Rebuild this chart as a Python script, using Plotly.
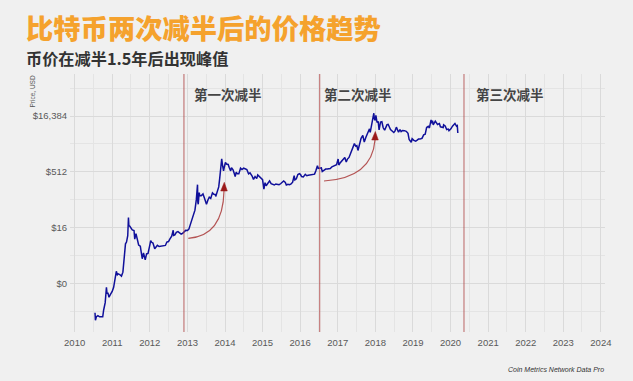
import plotly.graph_objects as go
import math

# ---- data ----
dates = [
"2010-07-18","2010-07-22","2010-08-01","2010-08-15","2010-09-01","2010-09-15","2010-10-01","2010-10-10","2010-10-25",
"2010-11-06","2010-11-12","2010-11-20","2010-12-01","2010-12-15","2011-01-01","2011-01-15","2011-02-01","2011-02-10",
"2011-02-20","2011-03-01","2011-03-15","2011-04-01","2011-04-15","2011-04-30","2011-05-10","2011-05-20","2011-06-01",
"2011-06-08","2011-06-12","2011-06-20","2011-07-01","2011-07-15","2011-08-01","2011-08-08","2011-08-20","2011-09-01",
"2011-09-15","2011-10-01","2011-10-20","2011-11-01","2011-11-18","2011-12-01","2011-12-15","2012-01-01","2012-01-10",
"2012-01-20","2012-02-01","2012-02-18","2012-03-01","2012-03-15","2012-04-01","2012-04-15","2012-05-01","2012-05-15",
"2012-06-01","2012-06-15","2012-07-01","2012-07-15","2012-08-01","2012-08-16","2012-08-20","2012-09-01","2012-09-15",
"2012-10-01","2012-10-15","2012-11-01","2012-11-15","2012-12-01","2012-12-15","2013-01-01","2013-01-15","2013-02-01",
"2013-02-15","2013-03-01","2013-03-15","2013-03-28","2013-04-09","2013-04-12","2013-04-16","2013-04-25","2013-05-01",
"2013-05-15","2013-06-01","2013-06-15","2013-07-05","2013-07-20","2013-08-01","2013-08-15","2013-09-01","2013-09-15",
"2013-10-01","2013-10-03","2013-10-15","2013-11-01","2013-11-10","2013-11-18","2013-11-30","2013-12-07","2013-12-18",
"2013-12-25","2014-01-05","2014-01-15","2014-02-01","2014-02-10","2014-02-25","2014-03-05","2014-03-20","2014-04-01",
"2014-04-10","2014-04-20","2014-05-01","2014-05-15","2014-06-01","2014-06-15","2014-07-01","2014-07-15","2014-08-01",
"2014-08-18","2014-09-01","2014-09-20","2014-10-05","2014-10-20","2014-11-05","2014-11-15","2014-12-01","2014-12-15",
"2015-01-01","2015-01-14","2015-01-25","2015-02-05","2015-02-20","2015-03-10","2015-03-25","2015-04-10","2015-04-25",
"2015-05-10","2015-05-25","2015-06-10","2015-06-25","2015-07-10","2015-07-25","2015-08-10","2015-08-20","2015-09-05",
"2015-09-20","2015-10-05","2015-10-20","2015-11-04","2015-11-11","2015-11-25","2015-12-10","2015-12-25","2016-01-05",
"2016-01-15","2016-02-01","2016-02-20","2016-03-05","2016-03-20","2016-04-05","2016-04-20","2016-05-05","2016-05-20",
"2016-06-01","2016-06-17","2016-06-25","2016-07-09","2016-07-25","2016-08-03","2016-08-20","2016-09-05","2016-09-20",
"2016-10-05","2016-10-20","2016-11-05","2016-11-20","2016-12-05","2016-12-20","2017-01-04","2017-01-11","2017-01-25",
"2017-02-10","2017-02-25","2017-03-10","2017-03-24","2017-04-05","2017-04-20","2017-05-05","2017-05-25","2017-06-11",
"2017-06-25","2017-07-05","2017-07-16","2017-08-01","2017-08-15","2017-09-01","2017-09-15","2017-10-01","2017-10-20",
"2017-11-05","2017-11-12","2017-11-28","2017-12-07","2017-12-17","2017-12-22","2017-12-30","2018-01-06","2018-01-17",
"2018-01-28","2018-02-06","2018-02-20","2018-03-05","2018-03-18","2018-04-01","2018-04-24","2018-05-05","2018-05-28",
"2018-06-12","2018-06-29","2018-07-10","2018-07-24","2018-08-14","2018-08-28","2018-09-08","2018-09-22","2018-10-10",
"2018-10-28","2018-11-14","2018-11-25","2018-12-15","2018-12-24","2019-01-10","2019-01-28","2019-02-08","2019-02-24",
"2019-03-10","2019-03-30","2019-04-15","2019-04-30","2019-05-14","2019-05-30","2019-06-10","2019-06-26","2019-07-02",
"2019-07-10","2019-07-17","2019-08-06","2019-08-28","2019-09-15","2019-09-25","2019-10-22","2019-10-26","2019-11-10",
"2019-11-25","2019-12-10","2019-12-17","2020-01-05","2020-01-20","2020-02-01","2020-02-13","2020-02-28","2020-03-07",
"2020-03-12"]
prices = [
0.08,0.05,0.063,0.067,0.062,0.061,0.062,0.095,0.15,
0.39,0.26,0.28,0.21,0.25,0.30,0.39,0.72,1.05,
0.85,0.90,0.86,0.78,1.0,3.5,5.8,6.5,9.6,
29.6,18,17.5,15.4,13.8,13.3,7.8,11,8.2,
5.4,5.0,2.3,3.3,2.15,3.1,3.2,5.3,7.1,
6.4,6.1,4.3,4.9,5.3,4.9,4.95,5.0,5.0,
5.25,6.5,6.7,7.9,9.4,13.5,9.8,10.1,11.8,
12.4,11.7,10.6,11.1,12.6,13.4,13.3,14.5,20.4,
27,34,47,89,230,78,68,140,117,
115,129,100,68,90,105,98,138,126,
123,110,145,200,330,700,1150,800,540,
680,920,830,810,680,540,660,580,460,
380,500,450,450,640,590,640,620,590,
450,480,400,320,380,335,420,380,345,
315,175,260,215,245,290,245,235,225,
240,238,229,243,270,290,265,225,235,
230,240,268,400,310,330,430,455,431,
380,372,437,400,412,421,441,448,442,
535,750,630,650,655,520,580,605,610,
612,630,700,730,760,800,1130,780,900,
1000,1170,1250,935,1130,1250,1550,2300,2950,
2500,2600,1930,2700,4100,4900,3250,4400,6000,
7400,5900,9900,16000,19500,13800,12500,17100,11000,
11700,6900,11200,11500,7900,6800,9600,9800,7100,
6500,5900,6400,8200,6000,7100,6200,6700,6600,
6350,5600,3800,3200,4000,3600,3450,3600,3900,
3900,4100,5100,5300,8000,8600,7800,12900,10500,
12300,9500,11900,9700,10300,8400,8000,9500,8800,
7100,7300,6600,7400,8700,9400,10300,8700,9000,
5700]

halving_dates = ["2012-11-28", "2016-07-09", "2020-05-11"]
halving_labels = ["第一次减半", "第二次减半", "第三次减半"]
halving_label_x = ["2013-02-18", "2016-08-05", "2020-08-18"]

y_tickvals = [0.5, 16, 512, 16384]
y_ticktext = ["$0", "$16", "$512", "$16,384"]
y_minor = [2 ** -3.5, 2 ** 1.5, 2 ** 6.5, 2 ** 11.5, 2 ** 16.5]
x_years = [f"{y}-01-01" for y in range(2010, 2025)]
x_labels = [str(y) for y in range(2010, 2025)]
x_minor = [f"{y}-07-01" for y in range(2009, 2025)]

W, H = 633, 381
L, R, T, B = 70, 28, 74, 49

def px(x):
    return (x - L) / (W - L - R)

def py(y):
    return (H - B - y) / (H - T - B)

fig = go.Figure()
fig.add_trace(go.Scatter(x=dates, y=prices, mode="lines",
                         line=dict(color="#10109a", width=1.5),
                         showlegend=False, hoverinfo="skip"))

shapes = []
for d in halving_dates:
    shapes.append(dict(type="line", xref="x", yref="paper", x0=d, x1=d, y0=0, y1=1,
                       line=dict(color="rgba(175,70,70,0.75)", width=1.1), layer="above"))

def curve_arrow(x0, y0, cx, cy, x1, y1, tipy, hw):
    path = f"M {px(x0)},{py(y0)} Q {px(cx)},{py(cy)} {px(x1)},{py(y1)}"
    shapes.append(dict(type="path", xref="paper", yref="paper", path=path,
                       line=dict(color="rgba(165,45,45,0.8)", width=1.2)))
    head = (f"M {px(x1 - hw)},{py(y1)} L {px(x1 + 0.3)},{py(tipy)} L {px(x1 + hw)},{py(y1)} Z")
    shapes.append(dict(type="path", xref="paper", yref="paper", path=head,
                       fillcolor="#9b1a1a", line=dict(color="#9b1a1a", width=0.5)))

curve_arrow(188.3, 238.3, 223, 236, 224, 191, 182.3, 3.3)
curve_arrow(324, 181, 372, 178, 375, 140, 131.5, 3.3)

annotations = []
for lx, lab in zip(halving_label_x, halving_labels):
    annotations.append(dict(x=lx, y=py(94), xref="x", yref="paper", text=lab,
                            showarrow=False, xanchor="left", yanchor="middle",
                            font=dict(family="Noto Sans CJK SC", size=13.5, color="#454545", weight="bold")))

annotations.append(dict(x=px(24), y=py(27), xref="paper", yref="paper",
                        text="比特币两次减半后的价格趋势", showarrow=False,
                        xanchor="left", yanchor="middle",
                        font=dict(family="Noto Sans CJK SC", size=27.3, color="#F5A22D", weight=900)))
annotations.append(dict(x=px(24), y=py(58), xref="paper", yref="paper",
                        text="币价在减半1.5年后出现峰值", showarrow=False,
                        xanchor="left", yanchor="middle",
                        font=dict(family="Noto Sans CJK SC", size=16.2, color="#333333", weight="bold")))
annotations.append(dict(x=px(31.5), y=py(74), xref="paper", yref="paper",
                        text="Price, USD", showarrow=False, textangle=-90,
                        xanchor="center", yanchor="top",
                        font=dict(family="Liberation Sans, Arial, sans-serif", size=6.5, color="#555555")))
annotations.append(dict(x=px(606), y=py(369), xref="paper", yref="paper",
                        text="<i>Coin Metrics Network Data Pro</i>", showarrow=False,
                        xanchor="right", yanchor="middle",
                        font=dict(family="Liberation Sans, Arial, sans-serif", size=7, color="#333333")))

ymin = math.log10(2 ** -5.37)
ymax = math.log10(2 ** 17.77)

fig.update_layout(
    width=W, height=H,
    margin=dict(l=L, r=R, t=T, b=B, pad=0),
    paper_bgcolor="#F0F0F0", plot_bgcolor="#F0F0F0",
    shapes=shapes, annotations=annotations,
    showlegend=False, hovermode=False,
    xaxis=dict(type="date", range=["2009-11-17", "2024-02-10"],
               tickmode="array", tickvals=x_years, ticktext=x_labels,
               showgrid=True, gridcolor="#DADADA", gridwidth=1,
               minor=dict(tickmode="array", tickvals=x_minor, showgrid=True,
                          gridcolor="#E4E4E4", gridwidth=1),
               zeroline=False, showline=False, ticks="", ticklabelstandoff=3,
               tickfont=dict(family="Liberation Sans, Arial, sans-serif", size=9.5, color="#595959")),
    yaxis=dict(type="log", range=[ymin, ymax],
               tickmode="array", tickvals=y_tickvals, ticktext=y_ticktext,
               showgrid=True, gridcolor="#DADADA", gridwidth=1,
               minor=dict(tickmode="array", tickvals=y_minor, showgrid=True,
                          gridcolor="#E4E4E4", gridwidth=1),
               zeroline=False, showline=False, ticks="", ticklabelstandoff=2,
               tickfont=dict(family="Liberation Sans, Arial, sans-serif", size=9.5, color="#595959")),
)

fig.write_html("out.html", config={"displayModeBar": False},
               post_script="document.body.style.margin='0';document.body.style.overflow='hidden';document.body.style.background='#F0F0F0';")
